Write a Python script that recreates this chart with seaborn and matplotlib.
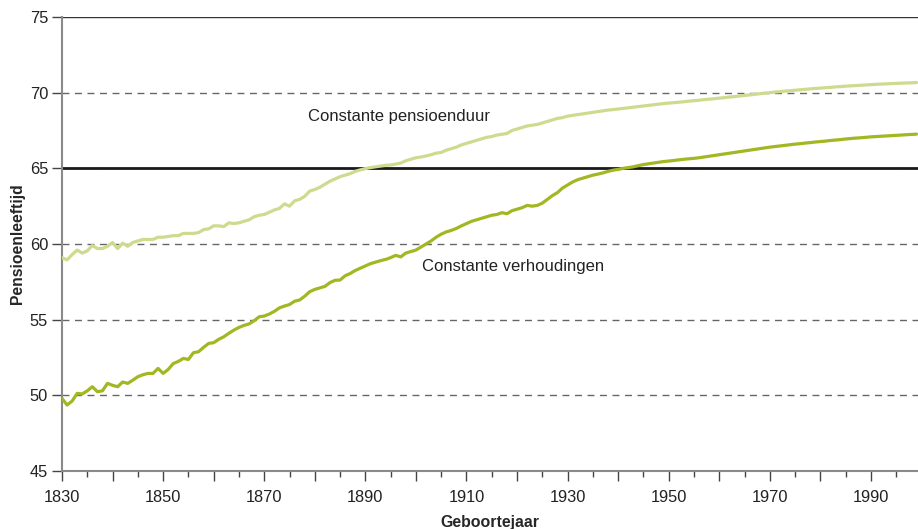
import matplotlib
matplotlib.use("Agg")
import matplotlib.pyplot as plt
from matplotlib.ticker import MultipleLocator, FuncFormatter
import seaborn as sns
import pandas as pd
import numpy as np

# geboortejaren 1830-1999
years = list(range(1830, 2000))

pensioenduur = [
    59.1, 58.95, 59.3, 59.6, 59.4, 59.55, 59.9, 59.7, 59.7, 59.85,
    60.1, 59.7, 60.05, 59.85, 60.1, 60.2, 60.3, 60.3, 60.3, 60.45,
    60.45, 60.5, 60.55, 60.55, 60.7, 60.7, 60.7, 60.75, 60.95, 61.0,
    61.2, 61.2, 61.15, 61.4, 61.35, 61.4, 61.5, 61.6, 61.8, 61.9,
    61.95, 62.1, 62.25, 62.35, 62.65, 62.5, 62.85, 62.95, 63.15, 63.5,
    63.6, 63.75, 63.95, 64.15, 64.3, 64.45, 64.55, 64.65, 64.8, 64.9,
    64.98, 65.05, 65.1, 65.15, 65.2, 65.22, 65.28, 65.35, 65.5, 65.6,
    65.7, 65.75, 65.82, 65.9, 66.0, 66.05, 66.2, 66.3, 66.4, 66.55,
    66.65, 66.75, 66.85, 66.95, 67.05, 67.1, 67.2, 67.25, 67.3, 67.5,
    67.6, 67.7, 67.8, 67.85, 67.9, 68.0, 68.1, 68.2, 68.3, 68.35,
    68.45, 68.5, 68.55, 68.6, 68.65, 68.7, 68.75, 68.8, 68.85, 68.88,
    68.92, 68.96, 69.0, 69.04, 69.08, 69.12, 69.16, 69.2, 69.24, 69.28,
    69.31, 69.34, 69.37, 69.4, 69.44, 69.47, 69.5, 69.54, 69.57, 69.6,
    69.64, 69.67, 69.71, 69.74, 69.78, 69.82, 69.85, 69.89, 69.93, 69.97,
    70.0, 70.04, 70.07, 70.1, 70.13, 70.16, 70.19, 70.22, 70.25, 70.28,
    70.3, 70.33, 70.35, 70.38, 70.4, 70.43, 70.45, 70.47, 70.49, 70.51,
    70.53, 70.55, 70.57, 70.58, 70.6, 70.61, 70.63, 70.64, 70.65, 70.67,
]

verhoudingen = [
    49.8, 49.36, 49.62, 50.13, 50.09, 50.3, 50.57, 50.24, 50.3, 50.79,
    50.66, 50.57, 50.88, 50.79, 51.0, 51.23, 51.36, 51.45, 51.45, 51.78,
    51.45, 51.71, 52.1, 52.24, 52.44, 52.37, 52.82, 52.88, 53.17, 53.43,
    53.48, 53.7, 53.87, 54.1, 54.31, 54.49, 54.62, 54.72, 54.93, 55.19,
    55.24, 55.37, 55.55, 55.78, 55.9, 56.0, 56.22, 56.3, 56.55, 56.85,
    57.0, 57.1, 57.2, 57.45, 57.6, 57.62, 57.9, 58.05, 58.25, 58.4,
    58.55, 58.7, 58.8, 58.9, 58.98, 59.1, 59.25, 59.15, 59.4, 59.5,
    59.6, 59.8, 60.0, 60.2, 60.45, 60.65, 60.8, 60.9, 61.03, 61.2,
    61.35, 61.5, 61.6, 61.7, 61.8, 61.9, 61.95, 62.07, 62.0, 62.2,
    62.3, 62.4, 62.55, 62.5, 62.55, 62.7, 62.95, 63.2, 63.4, 63.7,
    63.9, 64.1, 64.25, 64.35, 64.45, 64.55, 64.62, 64.7, 64.8, 64.88,
    64.93, 65.0, 65.05, 65.1, 65.18, 65.25, 65.3, 65.35, 65.4, 65.45,
    65.48, 65.52, 65.56, 65.6, 65.63, 65.66, 65.7, 65.75, 65.8, 65.85,
    65.9, 65.95, 66.0, 66.05, 66.1, 66.15, 66.2, 66.25, 66.3, 66.35,
    66.4, 66.44, 66.48, 66.52, 66.56, 66.6, 66.63, 66.67, 66.7, 66.74,
    66.77, 66.8, 66.84, 66.87, 66.9, 66.94, 66.97, 67.0, 67.02, 67.05,
    67.08, 67.1, 67.12, 67.14, 67.16, 67.18, 67.2, 67.22, 67.24, 67.26,
]

grid_levels = [50, 55, 60, 70]
reference_age = 65

sns.set_style("white")
plt.rcParams['font.family'] = ['Liberation Sans', 'DejaVu Sans']

df = pd.DataFrame({
    "Geboortejaar": years * 2,
    "Pensioenleeftijd": pensioenduur + verhoudingen,
    "scenario": ["Constante pensioenduur"] * len(years) + ["Constante verhoudingen"] * len(years),
})

fig = plt.figure(figsize=(9.18, 5.29), dpi=100)
ax = fig.add_axes([62 / 918, 58 / 529, 856 / 918, 454 / 529])

for y in grid_levels:
    ax.axhline(y, color="#666666", lw=1, ls=(0, (5, 4)), zorder=1)
ax.axhline(reference_age, color="#999999", lw=1, ls=(0, (2, 2)), zorder=1)
ax.axhline(reference_age, color="#1a1a1a", lw=2, zorder=2)
ax.axhline(75, color="#333333", lw=1, zorder=2)

sns.lineplot(data=df, x="Geboortejaar", y="Pensioenleeftijd", hue="scenario",
             palette={"Constante pensioenduur": "#cddb8f", "Constante verhoudingen": "#a2b722"},
             lw=2.3, legend=False, ax=ax, zorder=3)

ax.set_xlim(1830, 1999.3)
ax.set_ylim(45, 75)
ax.yaxis.set_major_locator(MultipleLocator(5))
ax.xaxis.set_major_locator(MultipleLocator(10))
ax.xaxis.set_minor_locator(MultipleLocator(5))
ax.xaxis.set_major_formatter(FuncFormatter(lambda v, p: f"{int(v)}" if (int(round(v)) - 1830) % 20 == 0 else ""))

ax.tick_params(axis="x", which="major", length=7.5, width=1, color="#444444", labelsize=11.8,
               labelcolor="#222222", pad=6, direction="out", bottom=True)
ax.tick_params(axis="x", which="minor", length=4, width=1, color="#444444", direction="out", bottom=True)
ax.tick_params(axis="y", length=7, width=1, color="#444444", labelsize=11.8,
               labelcolor="#222222", pad=3, direction="out", left=True)

for side in ["top", "right"]:
    ax.spines[side].set_visible(False)
for side in ["left", "bottom"]:
    ax.spines[side].set_color("#8a8a8a")
    ax.spines[side].set_linewidth(1.5)

ax.set_xlabel("Geboortejaar", fontsize=11.4, fontweight="bold", va="center")
ax.set_ylabel("Pensioenleeftijd", fontsize=11.3, fontweight="bold", va="center")
ax.xaxis.set_label_coords(0.5, -0.113)
ax.yaxis.set_label_coords(-0.052, 0.5)

ax.text(1878.7, 68.4, "Constante pensioenduur", fontsize=12, va="center", color="#222222")
ax.text(1901.2, 58.5, "Constante verhoudingen", fontsize=12, va="center", color="#222222")

fig.savefig("out.png", dpi=100)
